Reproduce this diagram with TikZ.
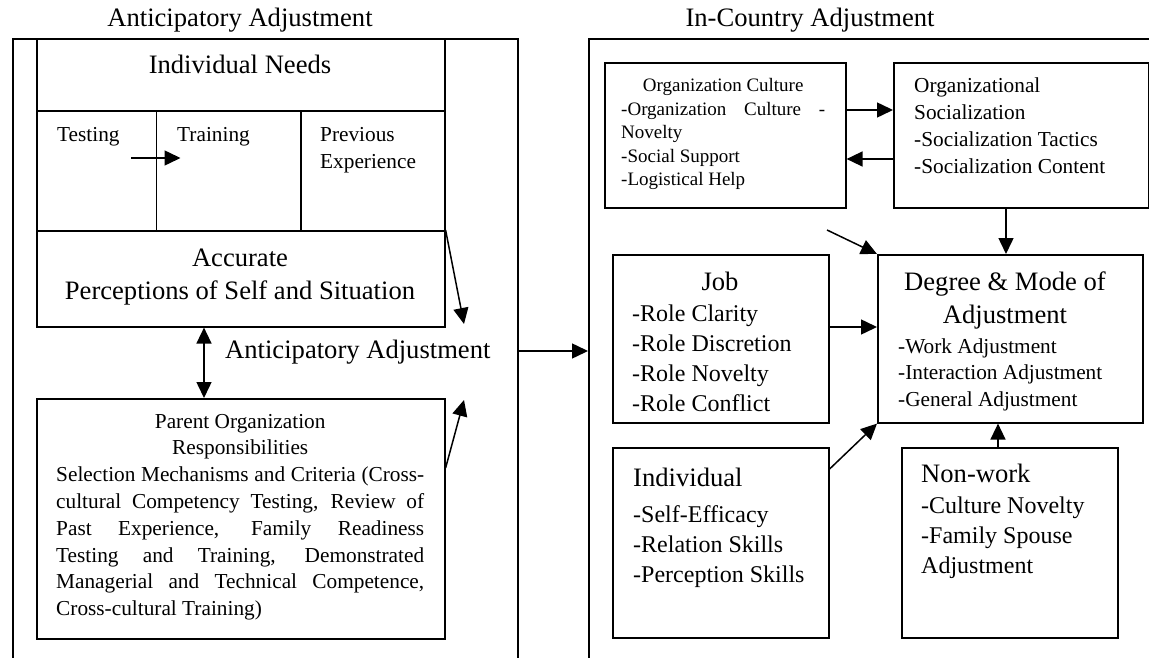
\documentclass[tikz,border=0pt]{standalone}
\usepackage{fontspec}
\setmainfont{Liberation Serif}
\usetikzlibrary{arrows.meta,calc}
\newcommand\FontBig{\fontsize{26.6pt}{33pt}\selectfont}
\newcommand\FontMid{\fontsize{24pt}{30.3pt}\selectfont}
\newcommand\FontSm{\fontsize{21.3pt}{26.8pt}\selectfont}
\newcommand\FontXs{\fontsize{19pt}{23.5pt}\selectfont}
\newcommand\JLine[1]{\hbox to \linewidth{#1}}
\begin{document}
\begin{tikzpicture}[x=1pt,y=-1pt,
  box/.style={draw, line width=1.6pt, inner sep=0pt, anchor=north west},
  txt/.style={inner sep=0pt, anchor=base west},
  ctxt/.style={inner sep=0pt, anchor=base},
  arr/.style={line width=1.5pt, -{Triangle[length=16pt,width=15pt]}},
  dbl/.style={line width=1.5pt, {Triangle[length=16pt,width=15pt]}-{Triangle[length=16pt,width=15pt]}}]
\useasboundingbox (0,0) rectangle (1149,658);
% frames
\node[box, minimum width=505pt, minimum height=700pt] (lframe) at (12,38) {};
\node[box, minimum width=700pt, minimum height=700pt] (rframe) at (588,38) {};
% left boxes
\node[box, minimum width=408pt, minimum height=192pt] (need) at (36,38) {};
\node[box, minimum width=119.5pt, minimum height=120pt] (testcell) at (36,110) {};
\node[box, minimum width=144.5pt, minimum height=120pt] (traincell) at (155.5,110) {};
\node[box, minimum width=144pt, minimum height=120pt] (prevcell) at (300,110) {};
\node[box, minimum width=408pt, minimum height=96pt] (acc) at (36,230) {};
\node[box, minimum width=408pt, minimum height=240pt] (parent) at (36,398) {};
% right boxes
\node[box, minimum width=241pt, minimum height=145pt] (orgc) at (604,62) {};
\node[box, minimum width=255pt, minimum height=145pt] (social) at (893,62) {};
\node[box, minimum width=216pt, minimum height=168pt] (job) at (612,254) {};
\node[box, minimum width=265pt, minimum height=168pt] (degree) at (877,254) {};
\node[box, minimum width=216pt, minimum height=190pt] (indiv) at (612,447) {};
\node[box, minimum width=216pt, minimum height=190pt] (nonwork) at (901,447) {};
% titles
\node[ctxt] (ltitle) at (240,27) {\FontBig Anticipatory Adjustment};
\node[ctxt] (rtitle) at (810,27) {\FontBig In-Country Adjustment};
% left texts
\node[ctxt] (needT) at (240,74) {\FontBig Individual Needs};
\node[txt] (testT) at (57,142) {\FontSm Testing};
\node[txt] (trainT) at (177,142) {\FontSm Training};
\node[txt] (prevT) at (320,142) {\FontSm\parbox[t]{120pt}{Previous\\Experience}};
\node[ctxt] (accT) at (240,266) {\FontBig\parbox[t]{400pt}{\centering Accurate\\Perceptions of Self and Situation}};
\node[txt] (antT) at (225,358) {\FontBig Anticipatory Adjustment};
\node[txt] (parT) at (56,428) {\FontSm\parbox[t]{368pt}{\centerline{Parent Organization}\centerline{Responsibilities}%
\JLine{Selection Mechanisms and Criteria (Cross-}%
\JLine{cultural Competency Testing, Review of}%
\JLine{Past Experience, Family Readiness}%
\JLine{Testing and Training, Demonstrated}%
\JLine{Managerial and Technical Competence,}%
\hbox{Cross-cultural Training)}}};
% right texts
\node[txt] (ocT) at (621,92) {\FontXs\parbox[t]{204pt}{\centerline{Organization Culture}%
\JLine{-Organization Culture -}\hbox{Novelty}\hbox{-Social Support}\hbox{-Logistical Help}}};
\node[txt] (soT) at (914,93) {\FontSm\parbox[t]{230pt}{Organizational\\Socialization\\-Socialization Tactics\\-Socialization Content}};
\node[ctxt] (jobT) at (720,290) {\FontBig Job};
\node[txt] (jobL) at (632,321) {\FontMid\parbox[t]{200pt}{-Role Clarity\\-Role Discretion\\-Role Novelty\\-Role Conflict}};
\node[ctxt] (degT) at (1005,290) {\FontBig\parbox[t]{260pt}{\centering Degree \& Mode of\\Adjustment}};
\node[txt] (degL) at (898,353) {\FontSm\parbox[t]{240pt}{-Work Adjustment\\-Interaction Adjustment\\-General Adjustment}};
\node[txt] (indT) at (633,486) {\FontBig Individual};
\node[txt] (indL) at (633,522) {\FontMid\parbox[t]{200pt}{-Self-Efficacy\\-Relation Skills\\-Perception Skills}};
\node[txt] (nwT) at (921,482) {\FontBig Non-work};
\node[txt] (nwL) at (921,513) {\FontMid\parbox[t]{190pt}{-Culture Novelty\\-Family Spouse\\Adjustment}};
% connectors left
\coordinate (ty) at (0,158);
\draw[arr] ($(testcell.west |- ty)+(95,0)$) -- ($(traincell.west |- ty)+(25,0)$);
\coordinate (adjIn1) at (464,324);
\draw[arr] (acc.north east) -- (adjIn1);
\coordinate (adjIn2) at (464,400);
\draw[arr] ($(parent.north east)+(0,70)$) -- (adjIn2);
\coordinate (dx) at (204,0);
\draw[dbl] (acc.south -| dx) -- (parent.north -| dx);
\coordinate (my) at (0,351);
\draw[arr] (lframe.east |- my) -- (rframe.west |- my);
% connectors right
\coordinate (ya) at (0,110);
\coordinate (yb) at (0,159);
\draw[arr] (orgc.east |- ya) -- (social.west |- ya);
\draw[arr] (social.west |- yb) -- (orgc.east |- yb);
\coordinate (xs) at (1006,0);
\draw[arr] (social.south -| xs) -- (degree.north -| xs);
\coordinate (dstart) at (827,230);
\draw[arr] (dstart) -- (degree.north west);
\coordinate (yj) at (0,327);
\draw[arr] (job.east |- yj) -- (degree.west |- yj);
\draw[arr] ($(indiv.north east)+(0,22)$) -- (degree.south west);
\coordinate (xn) at (998,0);
\draw[arr] (nonwork.north -| xn) -- (degree.south -| xn);
\end{tikzpicture}
\end{document}
